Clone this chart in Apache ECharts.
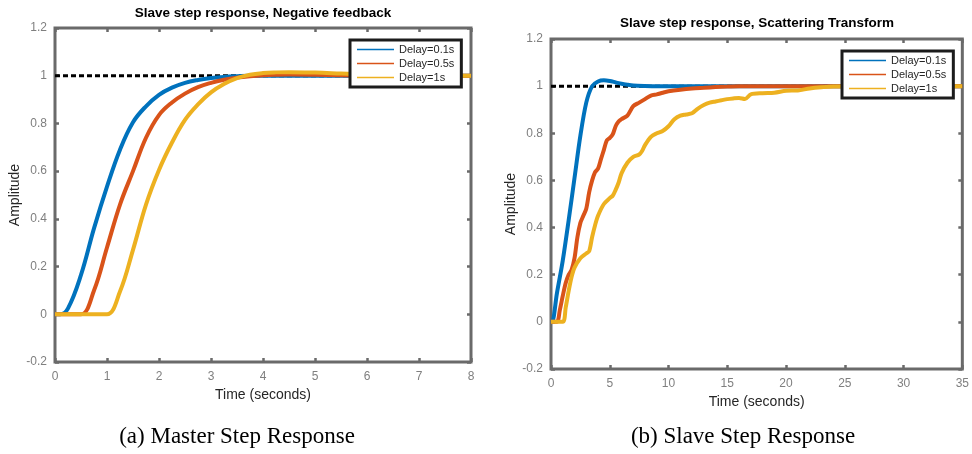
<!DOCTYPE html>
<html>
<head>
<meta charset="utf-8">
<script src="https://cdn.jsdelivr.net/npm/echarts@6/dist/echarts.min.js"></script>
<style>
  html, body { margin: 0; padding: 0; background: #fff; }
  #chart { width: 972px; height: 454px; }
</style>
</head>
<body>
<div id="chart"></div>
<script>
// ---- (a) Master step response: negative feedback ----
const masterTime = [0, 0.1, 0.25, 0.5, 0.75, 1.0, 1.25, 1.5, 1.75, 2.0, 2.25, 2.5, 2.75, 3.0, 3.25, 3.5, 3.75, 4.0, 4.25, 4.5, 5.0, 5.5, 6.0, 6.5, 7.0, 7.5, 8.0];
const masterDelay01 = [0, 0, 0.025, 0.165, 0.36, 0.535, 0.69, 0.805, 0.872, 0.92, 0.95, 0.97, 0.982, 0.99, 0.995, 0.998, 1.0, 1.0, 1.0, 1.0, 1.0, 1.0, 1.0, 1.0, 1.0, 1.0, 1.0];
const masterDelay05 = [0, 0, 0, 0, 0.1, 0.28, 0.46, 0.6, 0.74, 0.835, 0.888, 0.925, 0.952, 0.97, 0.983, 0.992, 0.998, 1.002, 1.004, 1.005, 1.004, 1.002, 1.0, 1.0, 1.0, 1.0, 1.0];
const masterDelay1 = [0, 0, 0, 0, 0, 0, 0.095, 0.27, 0.46, 0.605, 0.72, 0.815, 0.88, 0.93, 0.965, 0.99, 1.004, 1.011, 1.014, 1.015, 1.013, 1.009, 1.005, 1.002, 1.0, 1.0, 1.0];

// ---- (b) Slave step response: scattering transform ----
const slaveTime01 = [0, 0.1, 0.5, 1, 1.5, 2, 2.5, 3, 3.5, 4, 4.5, 5, 5.5, 6, 6.5, 7, 8, 9, 10, 12, 15, 20, 25, 30, 35];
const slaveDelay01 = [0, 0, 0.12, 0.26, 0.43, 0.61, 0.79, 0.93, 1.0, 1.02, 1.025, 1.022, 1.016, 1.01, 1.006, 1.003, 1.001, 1.0, 1.0, 1.0, 1.0, 1.0, 1.0, 1.0, 1.0];
const slaveTime05 = [0, 0.5, 0.75, 1, 1.25, 1.5, 1.75, 2, 2.25, 2.5, 2.75, 3, 3.25, 3.5, 3.75, 4, 4.25, 4.5, 4.75, 5, 5.25, 5.5, 5.75, 6, 6.5, 7, 7.5, 8, 8.5, 9, 9.5, 10, 11, 12, 13, 14, 15, 16, 18, 20, 25, 30, 35];
const slaveDelay05 = [0, 0, 0.05, 0.11, 0.165, 0.2, 0.22, 0.27, 0.36, 0.42, 0.45, 0.48, 0.55, 0.6, 0.635, 0.65, 0.69, 0.73, 0.77, 0.78, 0.795, 0.83, 0.85, 0.86, 0.875, 0.915, 0.93, 0.945, 0.96, 0.965, 0.972, 0.978, 0.985, 0.99, 0.993, 0.996, 0.998, 1.0, 1.0, 1.0, 1.0, 1.0, 1.0];
const slaveTime1 = [0, 1, 1.25, 1.5, 1.75, 2, 2.5, 3, 3.25, 3.5, 3.75, 4, 4.5, 5, 5.25, 5.5, 5.75, 6, 6.5, 7, 7.5, 7.75, 8, 8.5, 9, 9.5, 10, 10.5, 11, 11.5, 12, 12.5, 13, 13.5, 14, 14.5, 15, 15.5, 16, 16.5, 17, 18, 19, 20, 21, 22, 23, 24, 25, 30, 35];
const slaveDelay1 = [0, 0, 0.06, 0.13, 0.19, 0.23, 0.27, 0.29, 0.3, 0.36, 0.41, 0.45, 0.5, 0.525, 0.535, 0.56, 0.59, 0.63, 0.675, 0.7, 0.71, 0.725, 0.75, 0.785, 0.8, 0.81, 0.83, 0.86, 0.875, 0.88, 0.885, 0.905, 0.92, 0.93, 0.935, 0.94, 0.945, 0.948, 0.95, 0.945, 0.965, 0.97, 0.972, 0.98, 0.982, 0.99, 0.995, 0.998, 1.0, 1.0, 1.0];

// Unit step reference, spanning each time axis
const stepLevel = 1;
const masterSpan = [0, 8];
const slaveSpan = [0, 35];

const seriesNames = ['Delay=0.1s', 'Delay=0.5s', 'Delay=1s'];
const colors = ['#0072BD', '#D95319', '#EDB120'];
const titles = ['Slave step response, Negative feedback', 'Slave step response, Scattering Transform'];
const captions = ['(a) Master Step Response', '(b) Slave Step Response'];
const xName = 'Time (seconds)';
const yName = 'Amplitude';

const pairs = (t, v) => t.map((x, i) => [x, v[i]]);

const frame = '#6a6a6a';
const labelGrey = '#7f7f7f';

function axesFor(grid, xMin, xMax, xInt) {
  const tick = { show: true, inside: true, length: 4, lineStyle: { color: frame, width: 2.5 } };
  const common = { gridIndex: grid, type: 'value', axisLine: { show: false, onZero: false },
    splitLine: { show: false }, axisTick: tick };
  return {
    x: [
      Object.assign({}, common, {
        position: 'bottom', min: xMin, max: xMax, interval: xInt,
        axisLabel: { color: labelGrey, fontSize: 12, fontFamily: 'Liberation Sans', margin: 9 },
        name: xName, nameLocation: 'middle', nameGap: 25,
        nameTextStyle: { color: '#262626', fontSize: 14, fontFamily: 'Liberation Sans' }
      }),
      Object.assign({}, common, { position: 'top', min: xMin, max: xMax, interval: xInt, axisLabel: { show: false } })
    ],
    y: [
      Object.assign({}, common, {
        position: 'left', min: -0.2, max: 1.2, interval: 0.2,
        axisLabel: { color: labelGrey, fontSize: 12, fontFamily: 'Liberation Sans', margin: 8,
          formatter: v => String(+v.toFixed(1)) },
        name: yName, nameLocation: 'middle', nameGap: 32, nameRotate: 90,
        nameTextStyle: { color: '#262626', fontSize: 14, fontFamily: 'Liberation Sans' }
      }),
      Object.assign({}, common, { position: 'right', min: -0.2, max: 1.2, interval: 0.2, axisLabel: { show: false } })
    ]
  };
}

const a0 = axesFor(0, 0, 8, 1);
const a1 = axesFor(1, 0, 35, 5);

function curve(name, data, xi, yi, color, smooth) {
  return {
    name, type: 'line', xAxisIndex: xi, yAxisIndex: yi, data,
    showSymbol: false, symbol: 'none', smooth,
    lineStyle: { color, width: 4 }, itemStyle: { color }
  };
}
function stepLine(span, xi, yi) {
  return {
    name: 'Step', type: 'line', xAxisIndex: xi, yAxisIndex: yi,
    data: span.map(x => [x, stepLevel]), showSymbol: false, symbol: 'none',
    lineStyle: { color: '#000', width: 3, type: [5, 3] }
  };
}

function legendAt(left, top) {
  return {
    left, top, orient: 'vertical', data: seriesNames, icon: 'rect',
    itemWidth: 37, itemHeight: 1.5, itemGap: 3,
    padding: [4, 7, 4, 7], backgroundColor: '#fff',
    borderColor: '#1c1c1c', borderWidth: 3, borderRadius: 0,
    textStyle: { fontSize: 11, color: '#262626', fontFamily: 'Liberation Sans' },
    selectedMode: false
  };
}

const chart = echarts.init(document.getElementById('chart'), null, { renderer: 'canvas' });
chart.setOption({
  animation: false,
  backgroundColor: '#fff',
  grid: [
    { left: 55, top: 28, width: 416, height: 334, show: true, borderColor: frame, borderWidth: 3, backgroundColor: '#fff' },
    { left: 551, top: 39, width: 412, height: 330, show: true, borderColor: frame, borderWidth: 3, backgroundColor: '#fff' }
  ],
  xAxis: [...a0.x, ...a1.x],
  yAxis: [...a0.y, ...a1.y],
  legend: [legendAt(350, 40), legendAt(842, 51)],
  series: [
    stepLine(masterSpan, 0, 0),
    curve(seriesNames[0], pairs(masterTime, masterDelay01), 0, 0, colors[0], 0.4),
    curve(seriesNames[1], pairs(masterTime, masterDelay05), 0, 0, colors[1], 0.4),
    curve(seriesNames[2], pairs(masterTime, masterDelay1), 0, 0, colors[2], 0.4),
    stepLine(slaveSpan, 2, 2),
    curve(seriesNames[0], pairs(slaveTime01, slaveDelay01), 2, 2, colors[0], 0.3),
    curve(seriesNames[1], pairs(slaveTime05, slaveDelay05), 2, 2, colors[1], 0.3),
    curve(seriesNames[2], pairs(slaveTime1, slaveDelay1), 2, 2, colors[2], 0.3)
  ],
  graphic: [
    { type: 'text', x: 263, y: 13, style: { text: titles[0], align: 'center', verticalAlign: 'middle',
      font: 'bold 13.5px "Liberation Sans"', fill: '#000' } },
    { type: 'text', x: 757, y: 23, style: { text: titles[1], align: 'center', verticalAlign: 'middle',
      font: 'bold 13.5px "Liberation Sans"', fill: '#000' } },
    { type: 'text', x: 237, y: 437, style: { text: captions[0], align: 'center', verticalAlign: 'middle',
      font: '23px "Liberation Serif"', fill: '#000' } },
    { type: 'text', x: 743, y: 437, style: { text: captions[1], align: 'center', verticalAlign: 'middle',
      font: '23px "Liberation Serif"', fill: '#000' } }
  ]
});
</script>
</body>
</html>
